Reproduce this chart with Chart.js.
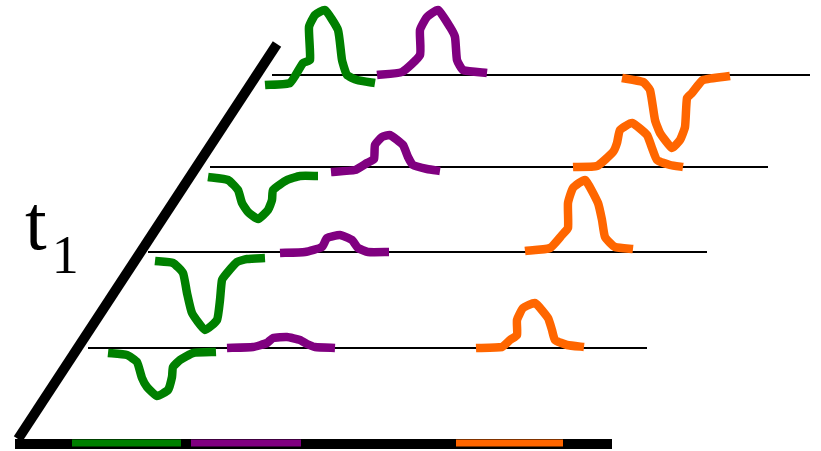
<!DOCTYPE html>
<html>
<head>
<meta charset="utf-8">
<script src="https://cdn.jsdelivr.net/npm/chart.js@4/dist/chart.umd.min.js"></script>
<style>
  body { margin: 0; background: #fff; }
  #wrap { position: relative; width: 821px; height: 451px; }
  #etiqueta {
    position: absolute; left: 25px; top: 184px;
    font-family: "Liberation Serif", "DejaVu Serif", serif;
    font-size: 78px; line-height: 1; color: #000;
  }
  #etiqueta sub { font-size: 54px; vertical-align: -24px; margin-left: 5px; }
</style>
</head>
<body>
<div id="wrap">
  <canvas id="grafico" width="821" height="451"></canvas>
  <div id="etiqueta">t<sub>1</sub></div>
</div>
<script>
// Datos (x, y en unidades de la figura, y hacia abajo)
const filaY = [75, 167, 252, 348];
const filaInicio = [272, 210, 148, 88];
const filaFin = [810, 768, 707, 647];

const eje = [[18, 439], [277, 44]];
const base = [[15, 444], [612, 444]];
const baseVerde = [[72, 443], [181, 443]];
const baseMorada = [[191, 443], [301, 443]];
const baseNaranja = [[456, 443], [563, 443]];

// fila 1
const verde1 = [[265, 85], [290, 83], [303, 63], [310, 60], [309, 27], [315, 15], [325, 10], [338, 30], [342, 60], [347, 75], [357, 80], [375, 83]];
const morada1 = [[377, 75], [402, 72], [420, 55], [420, 30], [427, 17], [438, 10], [450, 27], [455, 37], [457, 60], [463, 70], [487, 73]];
const naranja1 = [[622, 78], [643, 82], [650, 90], [655, 120], [660, 133], [672, 148], [680, 140], [685, 127], [687, 98], [692, 93], [703, 80], [730, 76]];
// fila 2
const verde2 = [[208, 177], [228, 180], [238, 190], [242, 203], [248, 212], [258, 219], [268, 210], [272, 200], [273, 190], [287, 180], [300, 176], [318, 176]];
const morada2 = [[331, 172], [355, 170], [367, 163], [374, 159], [375, 145], [382, 137], [390, 135], [403, 145], [408, 157], [413, 165], [427, 169], [440, 171]];
const naranja2 = [[573, 167], [597, 166], [613, 152], [617, 143], [620, 130], [632, 123], [647, 135], [652, 148], [657, 160], [670, 165], [683, 167]];
// fila 3
const verde3 = [[155, 261], [173, 263], [183, 273], [187, 293], [192, 313], [205, 330], [217, 320], [220, 300], [222, 280], [227, 273], [237, 262], [247, 259], [265, 258]];
const morada3 = [[280, 253], [305, 252], [322, 247], [327, 238], [340, 235], [352, 240], [358, 248], [368, 252], [389, 252]];
const naranja3 = [[525, 251], [550, 248], [562, 235], [568, 228], [568, 203], [573, 188], [585, 180], [598, 203], [602, 220], [605, 237], [615, 247], [633, 249]];
// fila 4
const verde4 = [[108, 353], [127, 355], [137, 362], [142, 378], [147, 387], [157, 396], [168, 390], [172, 377], [173, 367], [180, 360], [193, 353], [216, 352]];
const morada4 = [[227, 348], [253, 347], [267, 343], [273, 338], [287, 337], [300, 340], [307, 344], [315, 347], [335, 348]];
const naranja4 = [[476, 348], [502, 347], [510, 340], [517, 335], [517, 320], [523, 308], [535, 303], [548, 318], [552, 330], [555, 340], [567, 345], [584, 347]];

const VERDE = '#008000';
const MORADO = '#800080';
const NARANJA = '#ff6600';

function puntos(lista) {
    return lista.map(p => ({ x: p[0], y: p[1] }));
}

function serie(lista, color, ancho, suave) {
    return {
        data: puntos(lista),
        borderColor: color,
        borderWidth: ancho,
        pointRadius: 0,
        showLine: true,
        tension: suave || 0,
        fill: false,
        borderJoinStyle: 'round',
        borderCapStyle: 'butt'
    };
}

const datasets = [];
// curvas de color (arriba)
[[verde1, morada1, naranja1], [verde2, morada2, naranja2], [verde3, morada3, naranja3], [verde4, morada4, naranja4]].forEach(f => {
    datasets.push(serie(f[0], VERDE, 8.5, 0.15));
    datasets.push(serie(f[1], MORADO, 8.5, 0.15));
    datasets.push(serie(f[2], NARANJA, 8.5, 0.15));
});
datasets.push(serie(baseVerde, VERDE, 7));
datasets.push(serie(baseMorada, MORADO, 7));
datasets.push(serie(baseNaranja, NARANJA, 7));
// ejes negros
datasets.push(serie(eje, '#000', 10));
datasets.push(serie(base, '#000', 10));
// lineas finas de cada fila (al fondo)
filaY.forEach((y, i) => {
    datasets.push(serie([[filaInicio[i], y], [filaFin[i], y]], '#000', 2));
});

new Chart(document.getElementById('grafico'), {
    type: 'scatter',
    data: { datasets: datasets },
    options: {
        responsive: false,
        animation: false,
        devicePixelRatio: 1,
        layout: { padding: 0 },
        plugins: { legend: { display: false }, tooltip: { enabled: false } },
        scales: {
            x: { type: 'linear', min: 0, max: 821, display: false },
            y: { type: 'linear', min: 0, max: 451, reverse: true, display: false }
        }
    }
});
</script>
</body>
</html>
